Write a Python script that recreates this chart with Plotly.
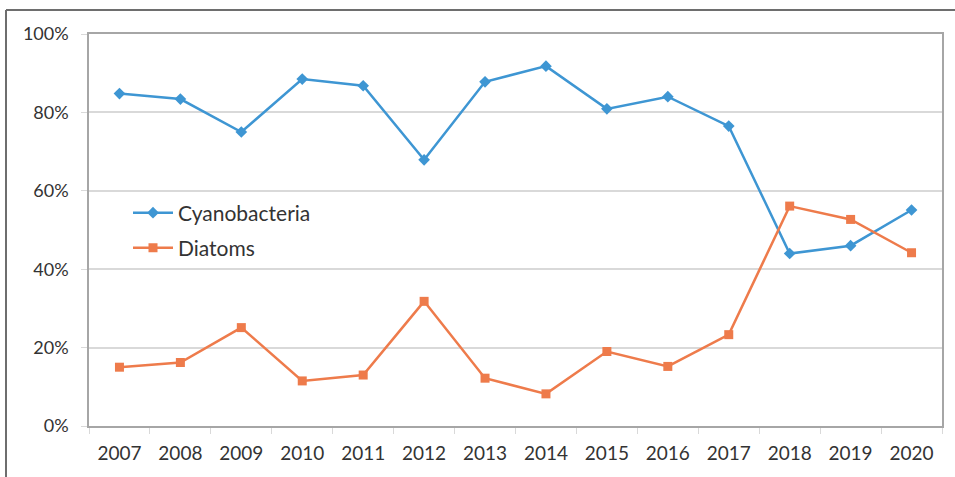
import plotly.graph_objects as go

# Share of phytoplankton biomass by group, per year
years = ["2007", "2008", "2009", "2010", "2011", "2012", "2013",
         "2014", "2015", "2016", "2017", "2018", "2019", "2020"]
cyanobacteria = [0.848, 0.834, 0.750, 0.885, 0.868, 0.679, 0.878,
                 0.918, 0.809, 0.840, 0.765, 0.440, 0.460, 0.551]
diatoms = [0.150, 0.162, 0.251, 0.115, 0.130, 0.318, 0.122,
           0.082, 0.190, 0.152, 0.233, 0.561, 0.527, 0.442]

BLUE = "#3E96D3"
ORANGE = "#EE7B4B"
AXIS = "#A6A6A6"
GRID = "#D9D9D9"
TEXT = "#333333"
FONT = "Lato, 'Liberation Sans', sans-serif"

fig = go.Figure()
fig.add_trace(go.Scatter(
    x=years, y=cyanobacteria, name="Cyanobacteria", mode="lines+markers",
    line=dict(color=BLUE, width=2.5),
    marker=dict(symbol="diamond", size=9, color=BLUE),
    legend="legend",
))
fig.add_trace(go.Scatter(
    x=years, y=diatoms, name="Diatoms", mode="lines+markers",
    line=dict(color=ORANGE, width=2.5),
    marker=dict(symbol="square", size=9, color=ORANGE),
    legend="legend2",
))

# Plot area in pixels: left 89, right 942, top 34, bottom 426
W, H = 955, 477
L, R, T, B = 89, 942, 34, 426
pw, ph = R - L, B - T

def px(x):
    return (x - L) / pw

def py(y):
    return (B - y) / ph

legend_style = dict(
    xanchor="left", yanchor="middle", bgcolor="rgba(0,0,0,0)",
    font=dict(size=21, color=TEXT), itemwidth=40,
)

fig.update_layout(
    width=W, height=H,
    margin=dict(l=L, r=W - R, t=T, b=H - B),
    paper_bgcolor="white", plot_bgcolor="white",
    font=dict(family=FONT, color=TEXT, size=18),
    showlegend=True,
    legend=dict(x=px(128), y=py(213), **legend_style),
    legend2=dict(x=px(128), y=py(248), **legend_style),
    xaxis=dict(
        type="category", range=[-0.5, 13.5],
        showline=True, linecolor=AXIS, linewidth=1.5, mirror=True,
        ticks="outside", tickson="boundaries", ticklen=6, tickcolor=GRID,
        showgrid=False, tickfont=dict(size=19, color=TEXT),
        ticklabelstandoff=9,
    ),
    yaxis=dict(
        range=[0, 1], dtick=0.2, tickformat=".0%",
        showline=True, linecolor=AXIS, linewidth=1.5, mirror=True,
        ticks="outside", ticklen=6, tickcolor=GRID,
        gridcolor=GRID, gridwidth=1.5, zeroline=False,
        tickfont=dict(size=18, color=TEXT),
        ticklabelstandoff=9,
    ),
    shapes=[
        # outer frame lines along top and left edges
        dict(type="line", xref="paper", yref="paper",
             x0=px(6), x1=px(W + 5), y0=py(10), y1=py(10),
             line=dict(color="#6E6E6E", width=2)),
        dict(type="line", xref="paper", yref="paper",
             x0=px(6), x1=px(6), y0=py(10), y1=py(H + 5),
             line=dict(color="#6E6E6E", width=2)),
    ],
)

fig.write_html("out.html")
